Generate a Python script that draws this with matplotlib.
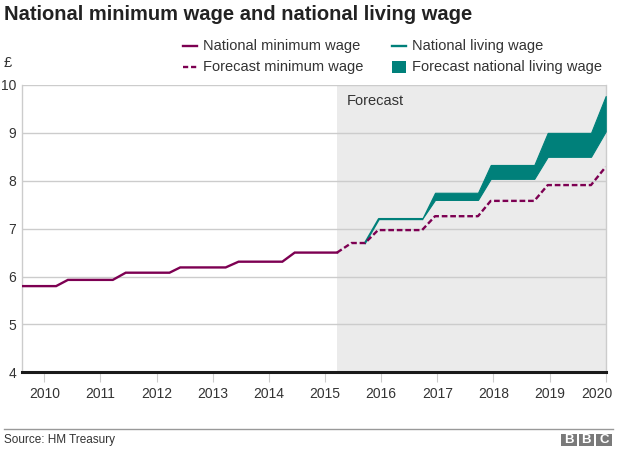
import matplotlib
matplotlib.use("Agg")
import matplotlib.pyplot as plt
from matplotlib.lines import Line2D
from matplotlib.patches import Rectangle
from matplotlib.transforms import ScaledTranslation

plt.rcParams['font.family'] = ['Liberation Sans', 'DejaVu Sans']

# ---- data ----
nmw_years = [2009.597, 2010.21, 2010.42, 2011.22, 2011.45, 2012.23, 2012.42,
             2013.23, 2013.46, 2014.24, 2014.46, 2015.214]
nmw_values = [5.80, 5.80, 5.93, 5.93, 6.08, 6.08, 6.19, 6.19, 6.31, 6.31, 6.50, 6.50]

fc_years = [2015.214, 2015.47, 2015.713, 2015.945, 2016.729, 2016.96, 2017.725,
            2017.952, 2018.728, 2018.967, 2019.738, 2020.0]
fc_values = [6.50, 6.70, 6.70, 6.97, 6.97, 7.26, 7.26, 7.58, 7.58, 7.91, 7.91, 8.29]

nlw_years = [2015.713, 2015.96, 2016.729]
nlw_values = [6.70, 7.20, 7.20]

band_years = [2016.729, 2016.96, 2017.725, 2017.952, 2018.728, 2018.967, 2019.738, 2020.0]
band_low = [7.20, 7.60, 7.60, 8.04, 8.04, 8.50, 8.50, 9.03]
band_high = [7.20, 7.75, 7.75, 8.33, 8.33, 9.00, 9.00, 9.77]

forecast_start = 2015.214
year_ticks = list(range(2010, 2021))
y_ticks = [4, 5, 6, 7, 8, 9, 10]

PURPLE = '#7d0052'
TEAL = '#00807a'
TXT = '#333333'

W, H = 624, 450
fig = plt.figure(figsize=(W / 100, H / 100), dpi=100)

def fx(px):
    return px / W

def fy(py):
    return 1 - py / H

ax_l, ax_r, ax_t, ax_b = 21.7, 605.7, 85.0, 372.3
ax = fig.add_axes([fx(ax_l), fy(ax_b), fx(ax_r) - fx(ax_l), fy(ax_t) - fy(ax_b)])
ax.set_xlim(2009.597, 2020.0)
ax.set_ylim(4, 10)

ax.axvspan(forecast_start, 2020.0, color='#ebebeb', zorder=0, lw=0)
for v in y_ticks[1:]:
    ax.axhline(v, color='#cccccc', lw=1, zorder=1)

ax.plot(nmw_years, nmw_values, color=PURPLE, lw=1.7, zorder=4,
        solid_joinstyle='miter')
ax.plot(fc_years, fc_values, color=PURPLE, lw=1.7, zorder=4,
        dashes=(2.4, 1.2))
ax.plot(nlw_years, nlw_values, color=TEAL, lw=1.6, zorder=3)
ax.fill_between(band_years, band_low, band_high, color=TEAL, lw=0.8,
                edgecolor=TEAL, zorder=3)

ax.text(2015.386, 9.67, 'Forecast', fontsize=10.5, color=TXT, va='center', ha='left')

for s in ['top', 'right', 'left']:
    ax.spines[s].set_color('#cccccc')
    ax.spines[s].set_linewidth(1)
ax.spines['top'].set_visible(False)
ax.spines['bottom'].set_color('#1a1a1a')
ax.spines['bottom'].set_linewidth(2.2)
ax.spines['bottom'].set_zorder(5)

ax.set_xticks(year_ticks)
ax.set_xticklabels([str(y) for y in year_ticks])
ax.tick_params(axis='x', length=7, width=0.8, color='#cccccc', labelsize=10,
               labelcolor=TXT, pad=3.5)
last = ax.get_xticklabels()[-1]
last.set_transform(last.get_transform() + ScaledTranslation(-0.092, 0, fig.dpi_scale_trans))
ax.set_yticks(y_ticks)
ax.set_yticklabels([str(v) for v in y_ticks])
ax.tick_params(axis='y', length=0, labelsize=10, labelcolor=TXT, pad=4)

# title
fig.text(fx(4), fy(14), 'National minimum wage and national living wage',
         fontsize=14.5, fontweight='bold', color='#222222', va='center', ha='left')
fig.text(fx(4), fy(63), '£', fontsize=10.5, color=TXT, va='center', ha='left')

# legend
def leg_line(x0, y, dashed=False, color=PURPLE):
    ln = Line2D([fx(x0), fx(x0 + 14)], [fy(y), fy(y)], transform=fig.transFigure,
                color=color, lw=1.7)
    if dashed:
        ln.set_dashes((2.2, 1.2))
    fig.add_artist(ln)

rows = [46, 67]
leg_line(183, rows[0])
fig.text(fx(203), fy(rows[0]), 'National minimum wage', fontsize=10.5, color=TXT, va='center')
leg_line(183, rows[1], dashed=True)
fig.text(fx(203), fy(rows[1]), 'Forecast minimum wage', fontsize=10.5, color=TXT, va='center')
leg_line(392, rows[0], color=TEAL)
fig.text(fx(412), fy(rows[0]), 'National living wage', fontsize=10.5, color=TXT, va='center')
fig.add_artist(Rectangle((fx(392), fy(rows[1] + 6)), fx(14), fy(0) - fy(12),
                         transform=fig.transFigure, color=TEAL, lw=0))
fig.text(fx(412), fy(rows[1]), 'Forecast national living wage', fontsize=10.5, color=TXT, va='center')

# footer
fig.add_artist(Line2D([fx(4), fx(613)], [fy(429.3), fy(429.3)], transform=fig.transFigure,
                      color='#999999', lw=1))
fig.text(fx(4), fy(439.5), 'Source: HM Treasury', fontsize=8.5, color=TXT, va='center')
for i, letter in enumerate('BBC'):
    x0 = 561 + i * 17.5
    fig.add_artist(Rectangle((fx(x0), fy(445.5)), fx(15.5), fy(0) - fy(11.5),
                             transform=fig.transFigure, color='#7a7a7a', lw=0))
    fig.text(fx(x0 + 7.75), fy(439.6), letter, fontsize=9.5, fontweight='bold',
             color='white', ha='center', va='center')

fig.savefig('out.png', dpi=100)
